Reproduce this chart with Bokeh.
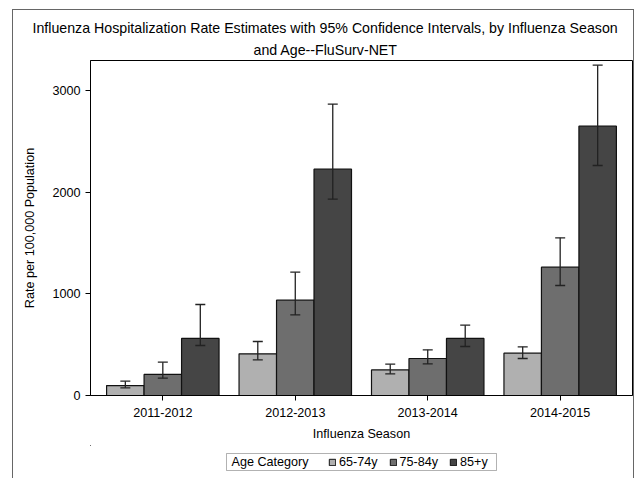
from bokeh.plotting import figure
from bokeh.layouts import column
from bokeh.models import (ColumnDataSource, FactorRange, Range1d, FixedTicker, Legend,
                          LegendItem, Title, Label, BoxAnnotation)
from bokeh.transform import dodge
from bokeh.embed import file_html
from bokeh.resources import INLINE

seasons = ["2011-2012", "2012-2013", "2013-2014", "2014-2015"]
age_groups = ["65-74y", "75-84y", "85+y"]
legend_title = "Age Category"
title_line1 = "Influenza Hospitalization Rate Estimates with 95% Confidence Intervals, by Influenza Season"
title_line2 = "and Age--FluSurv-NET"

rate_65_74 = [98, 410, 252, 416]
lower_65_74 = [75, 351, 213, 364]
upper_65_74 = [141, 531, 308, 479]

rate_75_84 = [207, 938, 364, 1262]
lower_75_84 = [170, 793, 311, 1082]
upper_75_84 = [328, 1213, 449, 1551]

rate_85 = [561, 2226, 561, 2649]
lower_85 = [492, 1931, 482, 2262]
upper_85 = [895, 2866, 692, 3249]

y_ticks = [0, 1000, 2000, 3000]

colors = ["#b0b0b0", "#6e6e6e", "#454545"]
offsets = [-0.283, 0.0, 0.283]
series = [
    (age_groups[0], rate_65_74, lower_65_74, upper_65_74),
    (age_groups[1], rate_75_84, lower_75_84, upper_75_84),
    (age_groups[2], rate_85, lower_85, upper_85),
]

FONT = "Liberation Sans"
TICK_FS = "12.6px"
BORDER = "1px solid #666666"

p = figure(width=622, height=436, output_backend="svg", toolbar_location=None,
           x_range=FactorRange(factors=seasons, range_padding=0.046, range_padding_units="absolute"),
           y_range=Range1d(0, 3295),
           min_border_left=77, min_border_right=3, min_border_top=50, min_border_bottom=51,
           margin=(9, 0, 0, 12),
           styles={"border-left": BORDER, "border-top": BORDER, "border-right": BORDER})
p.title = None
p.xgrid.visible = False
p.ygrid.visible = False
p.outline_line_color = "black"
p.outline_line_width = 1
p.background_fill_color = "white"
p.border_fill_color = "white"

for (name, rate, lo, hi), color, off in zip(series, colors, offsets):
    src = ColumnDataSource(dict(season=seasons, rate=rate, lo=lo, hi=hi))
    p.vbar(x=dodge("season", off, range=p.x_range), top="rate", width=0.283,
           fill_color=color, line_color="#111111", line_width=1.2, source=src)
    p.segment(x0=dodge("season", off, range=p.x_range), y0="lo",
              x1=dodge("season", off, range=p.x_range), y1="hi",
              line_color="#222222", line_width=1.3, source=src)
    p.scatter(x=dodge("season", off, range=p.x_range), y="hi", marker="dash", size=10,
              line_color="#222222", line_width=1.3, source=src)
    p.scatter(x=dodge("season", off, range=p.x_range), y="lo", marker="dash", size=10,
              line_color="#222222", line_width=1.3, source=src)

# axes
for ax in (p.xaxis[0], p.yaxis[0]):
    ax.axis_line_color = "black"
    ax.major_tick_line_color = "black"
    ax.major_tick_out = 5
    ax.major_tick_in = 0
    ax.minor_tick_line_color = None
    ax.major_label_text_font = FONT
    ax.major_label_text_font_size = TICK_FS
    ax.major_label_text_color = "black"
    ax.axis_label_text_font = FONT
    ax.axis_label_text_font_size = TICK_FS
    ax.axis_label_text_font_style = "normal"
    ax.axis_label_text_color = "black"

p.yaxis.ticker = FixedTicker(ticks=y_ticks)
p.yaxis.axis_label = "Rate per 100,000 Population"
p.yaxis.axis_label_standoff = 12
p.xaxis.axis_label = "Influenza Season"
p.xaxis.axis_label_standoff = 7
p.xaxis.major_label_standoff = 7

t2 = Title(text=title_line2, align="left", offset=163, standoff=6,
           text_font=FONT, text_font_size="14.2px", text_font_style="normal", text_color="black")
t1 = Title(text=title_line1, align="left", offset=-58, standoff=1,
           text_font=FONT, text_font_size="14.2px", text_font_style="normal", text_color="black")
p.add_layout(t2, "above")
p.add_layout(t1, "above")

# ---- legend strip (separate small figure; frame aligned with the main plot) ----
leg = figure(width=622, height=33, output_backend="svg", toolbar_location=None,
             x_range=Range1d(77, 619), y_range=Range1d(33, 0),
             x_axis_location=None, y_axis_location=None,
             min_border_left=77, min_border_right=3,
             min_border_top=0, min_border_bottom=0,
             margin=(0, 0, 0, 12),
             styles={"border-left": BORDER, "border-right": BORDER})
leg.title = None
leg.xgrid.visible = False
leg.ygrid.visible = False
leg.outline_line_color = None
leg.background_fill_color = "white"
leg.border_fill_color = "white"

leg.add_layout(BoxAnnotation(left=213, right=483, top=8, bottom=25,
                             fill_color="white", fill_alpha=1,
                             line_color="black", line_width=1, level="underlay"))
leg.add_layout(Label(x=218, y=16.5, text=legend_title, text_baseline="middle",
                     text_align="left", text_font=FONT, text_font_size=TICK_FS,
                     text_color="black"))

items = []
for name, color in zip(age_groups, colors):
    # legend proxy: a zero-height bar far outside the strip's visible range
    r = leg.vbar(x=[-1000], top=[-1000], bottom=[-1000], width=1, fill_color=color,
                 line_color="#111111", line_width=1)
    items.append(LegendItem(label=name, renderers=[r]))

legend = Legend(items=items, orientation="horizontal", location=(238, 9),
                label_text_font=FONT, label_text_font_size=TICK_FS, label_text_color="black",
                glyph_width=8, glyph_height=8, label_height=12, label_standoff=3,
                spacing=11, padding=0, margin=0,
                border_line_color=None, background_fill_alpha=0)
leg.add_layout(legend)

layout = column(p, leg, spacing=0)

open("out.html", "w").write(file_html(layout, INLINE))
